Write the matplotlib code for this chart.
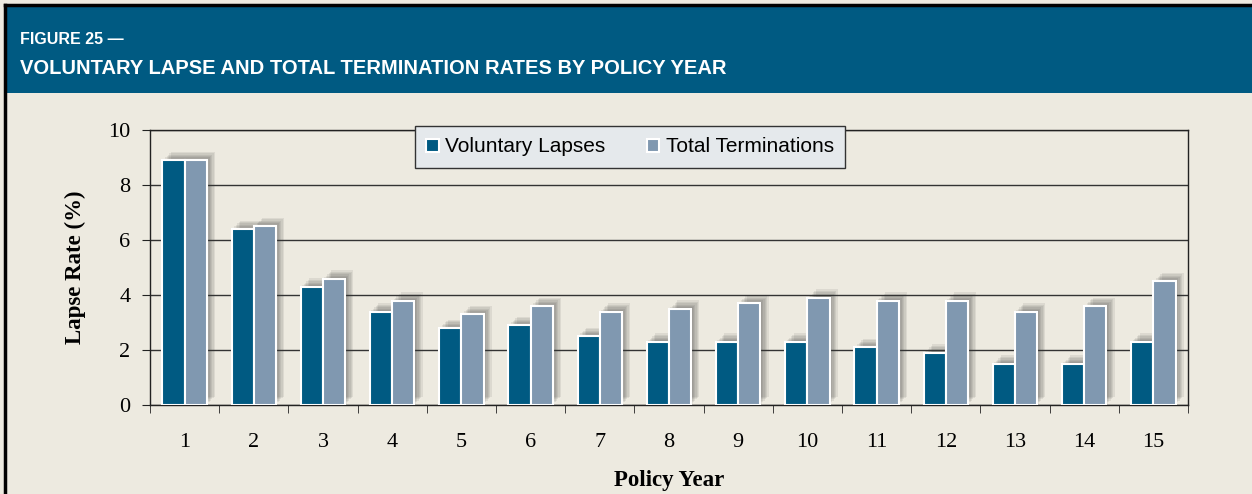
import matplotlib
matplotlib.use('Agg')
import matplotlib.pyplot as plt
import matplotlib.patheffects as pe
from matplotlib.patches import Rectangle
from matplotlib.lines import Line2D
import numpy as np

# data
years = [str(y) for y in range(1, 16)]
voluntary_lapses = [8.9, 6.4, 4.3, 3.4, 2.8, 2.9, 2.5, 2.3, 2.3, 2.3, 2.1, 1.9, 1.5, 1.5, 2.3]
total_terminations = [8.9, 6.5, 4.6, 3.8, 3.3, 3.6, 3.4, 3.5, 3.7, 3.9, 3.8, 3.8, 3.4, 3.6, 4.5]
yticks = [0, 2, 4, 6, 8, 10]

dark = '#005a82'
light = '#8098b0'
bg = '#edeae0'
narrow = ['Liberation Sans Narrow', 'Liberation Sans', 'DejaVu Sans']
serif = ['Liberation Serif', 'DejaVu Serif']

fig = plt.figure(figsize=(12.52, 4.94), dpi=100)
fig.patch.set_facecolor(bg)

# header band + frame
fig.patches.append(Rectangle((6/1252, 1-93/494), 1, 87/494, transform=fig.transFigure,
                             facecolor='#005a82', edgecolor='none', zorder=0))
fig.add_artist(Line2D([5/1252, 1], [1-5/494, 1-5/494], color='black', lw=2.5))
fig.add_artist(Line2D([5/1252, 5/1252], [0, 1-5/494], color='black', lw=2.5))

fig.text(20/1252, 1-40/494, 'FIGURE 25 \u2014', color='white', fontsize=11.5,
         fontweight='bold', family=narrow, va='center', ha='left')
fig.text(20/1252, 1-68/494, 'VOLUNTARY LAPSE AND TOTAL TERMINATION RATES BY POLICY YEAR',
         color='white', fontsize=14.5, fontweight='bold', family=narrow, va='center', ha='left')

ax = fig.add_axes([150/1252, 1-405/494, 1038/1252, 275/494])
ax.set_facecolor(bg)

x = np.arange(len(years))
w = 0.32
# soft shadow: several faint offset copies
shadow = [pe.SimplePatchShadow(offset=(k, k), shadow_rgbFace='#333333', alpha=0.09)
          for k in (1, 2, 3, 4, 5, 6)] + [pe.Normal()]
b1 = ax.bar(x - w/2, voluntary_lapses, w, color=dark, edgecolor='white', lw=1.5,
            label='Voluntary Lapses', zorder=3)
b2 = ax.bar(x + w/2, total_terminations, w, color=light, edgecolor='white', lw=1.5,
            label='Total Terminations', zorder=3)
for b in list(b1) + list(b2):
    b.set_path_effects(shadow)

ax.set_xlim(-0.5, len(years) - 0.5)
ax.set_ylim(0, 10)
ax.set_yticks(yticks)
ax.set_yticklabels([str(t) for t in yticks], family=serif, fontsize=16)
ax.set_xticks(x)
ax.set_xticklabels(years, family=serif, fontsize=16)
ax.set_xticks(np.arange(-0.5, len(years)), minor=True)
ax.tick_params(axis='x', which='major', length=0, pad=20)
ax.tick_params(axis='x', which='minor', length=6, direction='out', color='#222222')
ax.tick_params(axis='y', length=6, direction='out', color='#222222', pad=8)

ax.grid(axis='y', color='#333333', lw=1, zorder=1)
ax.set_axisbelow(True)
for s in ax.spines.values():
    s.set_color('#222222')
    s.set_linewidth(1)

ax.set_ylabel('Lapse Rate (%)', family=serif, fontsize=16.5, fontweight='bold', labelpad=16)
ax.set_xlabel('Policy Year', family=serif, fontsize=16.5, fontweight='bold', labelpad=13)

leg = fig.legend(handles=[b1, b2], loc='center', bbox_to_anchor=(630/1252, 1-147/494),
                 ncol=2, frameon=True, fancybox=False, prop={'family': narrow, 'size': 15},
                 handlelength=0.6, handleheight=0.6, handletextpad=0.3, columnspacing=2.0,
                 borderpad=0.55)
leg.get_frame().set_facecolor('#e5e9ec')
leg.get_frame().set_edgecolor('#333333')
leg.get_frame().set_alpha(1)
for h in leg.legend_handles:
    h.set_path_effects([])

fig.savefig('out.png', dpi=100, facecolor=fig.get_facecolor())
